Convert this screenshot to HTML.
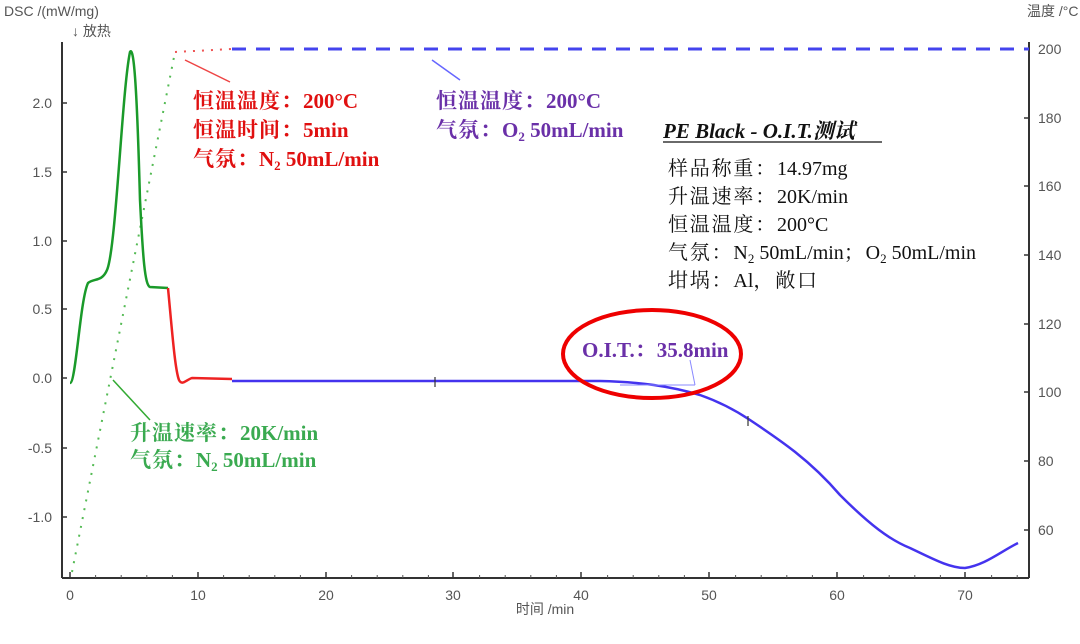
<!DOCTYPE html>
<html><head><meta charset="utf-8"><style>
html,body{margin:0;padding:0;background:#fff;}
svg{display:block;}
.t{font-family:"Liberation Sans","Noto Sans CJK SC",sans-serif;font-size:14px;fill:#555;}
.s{font-family:"Liberation Serif","Noto Serif CJK SC",serif;}
.k{letter-spacing:1px;}
.b{letter-spacing:1.8px;}
</style></head><body>
<svg width="1080" height="644" viewBox="0 0 1080 644" xmlns="http://www.w3.org/2000/svg">
<rect width="1080" height="644" fill="#fff"/>
<line x1="62" y1="42" x2="62" y2="578" stroke="#333" stroke-width="2"/>
<line x1="1029" y1="42" x2="1029" y2="578" stroke="#333" stroke-width="2"/>
<line x1="62" y1="578" x2="1029" y2="578" stroke="#333" stroke-width="2"/>
<g stroke="#333" stroke-width="1.5">
<line x1="62" y1="103" x2="67" y2="103"/><line x1="62" y1="172" x2="67" y2="172"/><line x1="62" y1="241" x2="67" y2="241"/><line x1="62" y1="309" x2="67" y2="309"/><line x1="62" y1="378" x2="67" y2="378"/><line x1="62" y1="448" x2="67" y2="448"/><line x1="62" y1="517" x2="67" y2="517"/>
<line x1="1024" y1="49" x2="1029" y2="49"/><line x1="1024" y1="118" x2="1029" y2="118"/><line x1="1024" y1="186" x2="1029" y2="186"/><line x1="1024" y1="255" x2="1029" y2="255"/><line x1="1024" y1="324" x2="1029" y2="324"/><line x1="1024" y1="392" x2="1029" y2="392"/><line x1="1024" y1="461" x2="1029" y2="461"/><line x1="1024" y1="530" x2="1029" y2="530"/>
<line x1="70" y1="578" x2="70" y2="572"/><line x1="198" y1="578" x2="198" y2="572"/><line x1="326" y1="578" x2="326" y2="572"/><line x1="453" y1="578" x2="453" y2="572"/><line x1="581" y1="578" x2="581" y2="572"/><line x1="709" y1="578" x2="709" y2="572"/><line x1="837" y1="578" x2="837" y2="572"/><line x1="965" y1="578" x2="965" y2="572"/>
</g>
<g stroke="#555" stroke-width="1">
<line x1="95.6" y1="578" x2="95.6" y2="575"/><line x1="121.2" y1="578" x2="121.2" y2="575"/><line x1="146.8" y1="578" x2="146.8" y2="575"/><line x1="172.4" y1="578" x2="172.4" y2="575"/>
<line x1="223.6" y1="578" x2="223.6" y2="575"/><line x1="249.2" y1="578" x2="249.2" y2="575"/><line x1="274.8" y1="578" x2="274.8" y2="575"/><line x1="300.4" y1="578" x2="300.4" y2="575"/>
<line x1="351.6" y1="578" x2="351.6" y2="575"/><line x1="377.2" y1="578" x2="377.2" y2="575"/><line x1="402.8" y1="578" x2="402.8" y2="575"/><line x1="428.4" y1="578" x2="428.4" y2="575"/>
<line x1="479.6" y1="578" x2="479.6" y2="575"/><line x1="505.2" y1="578" x2="505.2" y2="575"/><line x1="530.8" y1="578" x2="530.8" y2="575"/><line x1="556.4" y1="578" x2="556.4" y2="575"/>
<line x1="607.6" y1="578" x2="607.6" y2="575"/><line x1="633.2" y1="578" x2="633.2" y2="575"/><line x1="658.8" y1="578" x2="658.8" y2="575"/><line x1="684.4" y1="578" x2="684.4" y2="575"/>
<line x1="735.6" y1="578" x2="735.6" y2="575"/><line x1="761.2" y1="578" x2="761.2" y2="575"/><line x1="786.8" y1="578" x2="786.8" y2="575"/><line x1="812.4" y1="578" x2="812.4" y2="575"/>
<line x1="863.6" y1="578" x2="863.6" y2="575"/><line x1="889.2" y1="578" x2="889.2" y2="575"/><line x1="914.8" y1="578" x2="914.8" y2="575"/><line x1="940.4" y1="578" x2="940.4" y2="575"/>
<line x1="991.6" y1="578" x2="991.6" y2="575"/><line x1="1017.2" y1="578" x2="1017.2" y2="575"/>
</g>
<g class="t" text-anchor="end">
<text x="52" y="108">2.0</text><text x="52" y="177">1.5</text><text x="52" y="246">1.0</text><text x="52" y="314">0.5</text><text x="52" y="383">0.0</text><text x="52" y="453">-0.5</text><text x="52" y="522">-1.0</text>
</g>
<g class="t">
<text x="1038" y="54">200</text><text x="1038" y="123">180</text><text x="1038" y="191">160</text><text x="1038" y="260">140</text><text x="1038" y="329">120</text><text x="1038" y="397">100</text><text x="1038" y="466">80</text><text x="1038" y="535">60</text>
</g>
<g class="t" text-anchor="middle">
<text x="70" y="600">0</text><text x="198" y="600">10</text><text x="326" y="600">20</text><text x="453" y="600">30</text><text x="581" y="600">40</text><text x="709" y="600">50</text><text x="837" y="600">60</text><text x="965" y="600">70</text>
<text x="545" y="614">时间 /min</text>
</g>
<text class="t" x="4" y="16">DSC /(mW/mg)</text>
<text class="t" x="72" y="36">↓ 放热</text>
<text class="t" x="1027" y="16">温度 /°C</text>
<polyline points="72,572 175,52" fill="none" stroke="#5b5" stroke-width="2" stroke-dasharray="2,7"/>
<polyline points="175,52 232,49" fill="none" stroke="#e55" stroke-width="2" stroke-dasharray="2,7"/>
<line x1="232" y1="49" x2="1029" y2="49" stroke="#44e" stroke-width="3" stroke-dasharray="14,10"/>
<path d="M70,383 C76,383 80,300 88,283 C94,278 102,282 107,270 C116,250 122,90 130,52 C134,45 137,90 140,200 C143,260 145,285 150,287 L168,288" fill="none" stroke="#1a9a2a" stroke-width="2.5"/>
<path d="M168,288 C172,330 175,370 179,380 C182,386 186,380 192,378 L232,379" fill="none" stroke="#e22" stroke-width="2.5"/>
<path d="M232,381 L600,381 C640,382 670,386 700,395 C720,402 735,410 750,420 C780,440 810,460 840,495 C870,525 890,540 910,548 C935,560 950,568 965,568 C985,565 1000,552 1018,543" fill="none" stroke="#4433ee" stroke-width="2.5"/>
<line x1="620" y1="385" x2="695" y2="385" stroke="#88f" stroke-width="1"/>
<line x1="690" y1="360" x2="695" y2="385" stroke="#88f" stroke-width="1"/>
<g stroke="#333" stroke-width="1.2"><line x1="435" y1="377" x2="435" y2="387"/><line x1="748" y1="416" x2="748" y2="426"/></g>
<line x1="185" y1="60" x2="230" y2="82" stroke="#e44" stroke-width="1.5"/>
<line x1="432" y1="60" x2="460" y2="80" stroke="#66f" stroke-width="1.5"/>
<line x1="113" y1="380" x2="150" y2="420" stroke="#3a3" stroke-width="1.5"/>
<ellipse cx="652" cy="354" rx="89" ry="44" fill="none" stroke="#e00" stroke-width="4"/>
<g class="s" font-size="21" font-weight="bold" fill="#e01010">
<text x="193" y="108"><tspan class="k">恒温温度：</tspan>200°C</text>
<text x="193" y="137"><tspan class="k">恒温时间：</tspan>5min</text>
<text x="193" y="166"><tspan class="k">气氛：</tspan>N<tspan font-size="13" dy="4">2</tspan><tspan dy="-4">  50mL/min</tspan></text>
</g>
<g class="s" font-size="21" font-weight="bold" fill="#6a30a8">
<text x="436" y="108"><tspan class="k">恒温温度：</tspan>200°C</text>
<text x="436" y="137"><tspan class="k">气氛：</tspan>O<tspan font-size="13" dy="4">2</tspan><tspan dy="-4">  50mL/min</tspan></text>
<text x="582" y="357">O.I.T.<tspan class="k">：</tspan>35.8min</text>
</g>
<g class="s" font-size="21" font-weight="bold" fill="#3aaa50">
<text x="130" y="440"><tspan class="k">升温速率：</tspan>20K/min</text>
<text x="130" y="467"><tspan class="k">气氛：</tspan>N<tspan font-size="13" dy="4">2</tspan><tspan dy="-4">  50mL/min</tspan></text>
</g>
<text class="s" x="663" y="138" font-size="21" font-weight="bold" font-style="italic" fill="#111">PE Black - O.I.T.测试</text>
<line x1="663" y1="142" x2="882" y2="142" stroke="#111" stroke-width="1.2"/>
<g class="s" font-size="20" fill="#111">
<text x="668" y="175"><tspan class="b">样品称重：</tspan>14.97mg</text>
<text x="668" y="203"><tspan class="b">升温速率：</tspan>20K/min</text>
<text x="668" y="231"><tspan class="b">恒温温度：</tspan>200°C</text>
<text x="668" y="259"><tspan class="b">气氛：</tspan>N<tspan font-size="13" dy="4">2</tspan><tspan dy="-4">  50mL/min</tspan><tspan class="b">；</tspan>O<tspan font-size="13" dy="4">2</tspan><tspan dy="-4">  50mL/min</tspan></text>
<text x="668" y="287"><tspan class="b">坩埚：</tspan>Al<tspan class="b">，敞口</tspan></text>
</g>
</svg>
</body></html>
